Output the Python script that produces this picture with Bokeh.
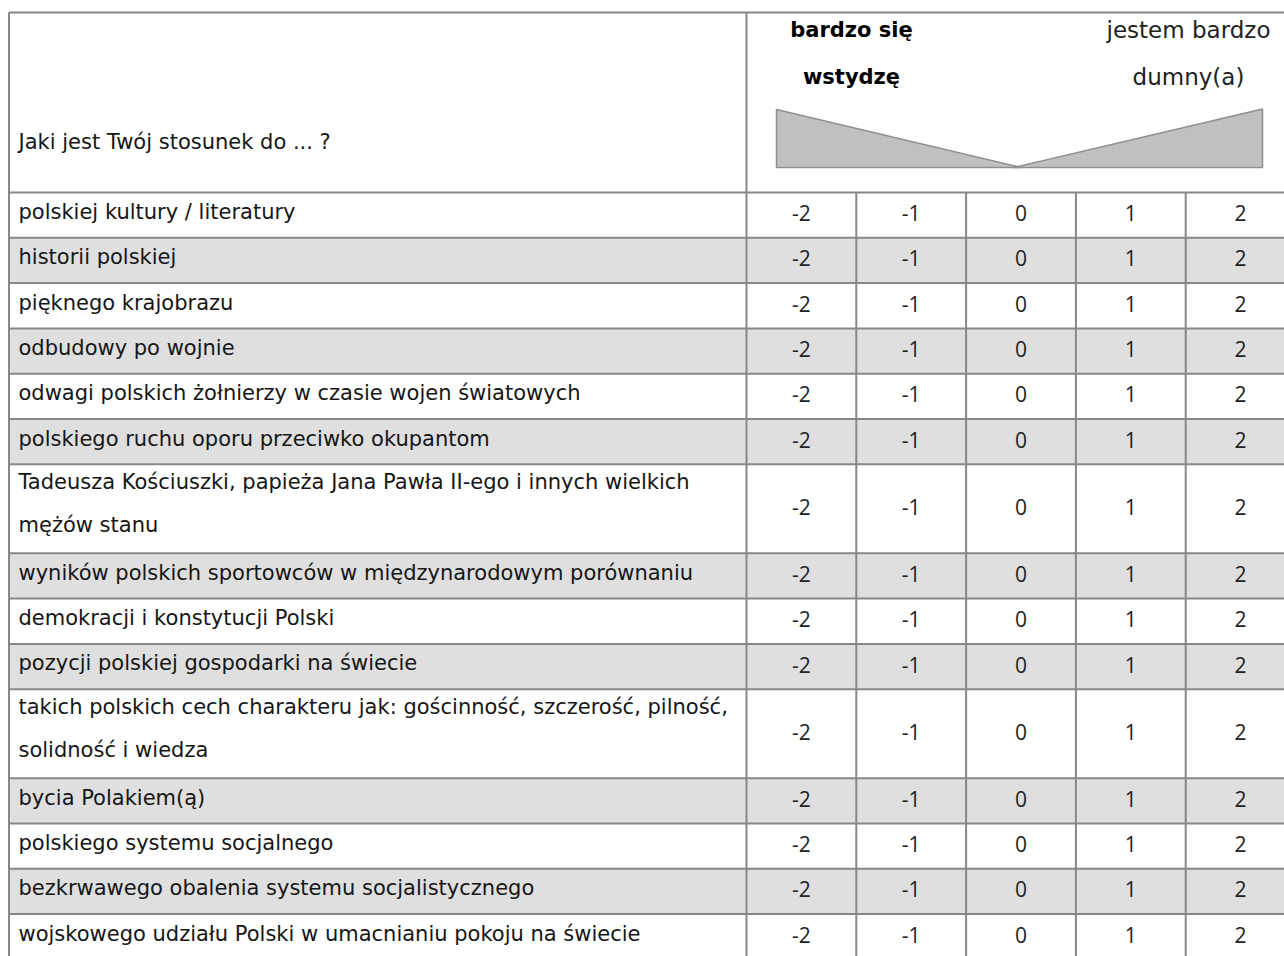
from bokeh.plotting import figure
from bokeh.models import Range1d
from bokeh.embed import file_html
from bokeh.resources import INLINE
from bokeh.core.properties import value

# ---------------- data ----------------
question = "Jaki jest Twój stosunek do ... ?"
anchor_low = ["bardzo się", "wstydzę"]
anchor_high = ["jestem bardzo", "dumny(a)"]
scale_values = [-2, -1, 0, 1, 2]
items = [
    "polskiej kultury / literatury",
    "historii polskiej",
    "pięknego krajobrazu",
    "odbudowy po wojnie",
    "odwagi polskich żołnierzy w czasie wojen światowych",
    "polskiego ruchu oporu przeciwko okupantom",
    "Tadeusza Kościuszki, papieża Jana Pawła II-ego i innych wielkich\nmężów stanu",
    "wyników polskich sportowców w międzynarodowym porównaniu",
    "demokracji i konstytucji Polski",
    "pozycji polskiej gospodarki na świecie",
    "takich polskich cech charakteru jak: gościnność, szczerość, pilność,\nsolidność i wiedza",
    "bycia Polakiem(ą)",
    "polskiego systemu socjalnego",
    "bezkrwawego obalenia systemu socjalistycznego",
    "wojskowego udziału Polski w umacnianiu pokoju na świecie",
]

# ---------------- layout ----------------
X_LEFT = 8.5
X_RIGHT = 1284
X_LABEL_END = 746
CELL_W = 109.8
Y_TOP = 12
Y_HEAD = 192
ROW_H1 = 45.3
ROW_H2 = 89
Y_BOTTOM = 956
LINE_COL = "#878787"
STRIPE = "#DFDFDF"
TEXT_COL = "#161616"

p = figure(width=1284, height=956, x_range=Range1d(0, 1284), y_range=Range1d(956, 0),
           output_backend="svg", toolbar_location=None, min_border=0,
           x_axis_location=None, y_axis_location=None)
p.grid.visible = False
p.outline_line_color = None
p.background_fill_color = "white"
p.border_fill_color = "white"

# row geometry
tops, bottoms, lines = [], [], []
y = Y_HEAD
for it in items:
    ls = it.split("\n")
    h = ROW_H1 if len(ls) == 1 else ROW_H2
    tops.append(y)
    bottoms.append(y + h)
    lines.append(ls)
    y += h

# stripes
st = [i for i in range(len(items)) if i % 2 == 1]
p.quad(left=[X_LEFT] * len(st), right=[X_RIGHT] * len(st),
       top=[tops[i] for i in st], bottom=[bottoms[i] for i in st],
       fill_color=STRIPE, line_color=None)

# horizontal rules
hy = [Y_TOP, Y_HEAD] + bottoms
p.segment(x0=[X_LEFT] * len(hy), x1=[X_RIGHT] * len(hy), y0=hy, y1=hy,
          line_color=LINE_COL, line_width=2)

# vertical rules
vx = [X_LEFT, X_LABEL_END] + [X_LABEL_END + k * CELL_W for k in range(1, len(scale_values))]
vy0 = [Y_TOP, Y_TOP] + [Y_HEAD] * (len(scale_values) - 1)
p.segment(x0=vx, x1=vx, y0=vy0, y1=[Y_BOTTOM] * len(vx),
          line_color=LINE_COL, line_width=2)

# header wedge graphic
p.patches(xs=[[776, 776, 1021], [1013, 1262, 1262]],
          ys=[[109, 167, 167], [167, 167, 108.5]],
          fill_color="#C0C0C0", line_color="#8F8F8F", line_width=1.5)

# header texts
p.text(x=[18], y=[141], text=[question], text_font=value("DejaVu Sans"),
       text_font_size="21px", text_baseline="middle", text_align="left", text_color=TEXT_COL)
p.text(x=[851, 851], y=[29, 76], text=anchor_low, text_font=value("DejaVu Sans"),
       text_font_style="bold", text_font_size="21px", text_baseline="middle",
       text_align="center", text_color="#000000")
p.text(x=[1188, 1188], y=[29, 76], text=anchor_high, text_font=value("DejaVu Sans"),
       text_font_size="23px", text_baseline="middle", text_align="center", text_color="#222222")

# row labels
lx, ly, lt = [], [], []
for i, ls in enumerate(lines):
    if len(ls) == 1:
        lx.append(18); ly.append(tops[i] + 19.5); lt.append(ls[0])
    else:
        lx += [18, 18]; ly += [tops[i] + 17.5, tops[i] + 60.5]; lt += ls
p.text(x=lx, y=ly, text=lt, text_font=value("DejaVu Sans"), text_font_size="21px",
       text_baseline="middle", text_align="left", text_color=TEXT_COL)

# scale numbers
nx, ny, nt = [], [], []
for i in range(len(items)):
    c = (tops[i] + bottoms[i]) / 2 - 2
    for k, v in enumerate(scale_values):
        nx.append(X_LABEL_END + (k + 0.5) * CELL_W)
        ny.append(c)
        nt.append(str(v))
p.text(x=nx, y=ny, text=nt, text_font=value("Open Sans"), text_font_size="21px",
       text_baseline="middle", text_align="center", text_color="#222222")

open("out.html", "w").write(file_html(p, INLINE))
